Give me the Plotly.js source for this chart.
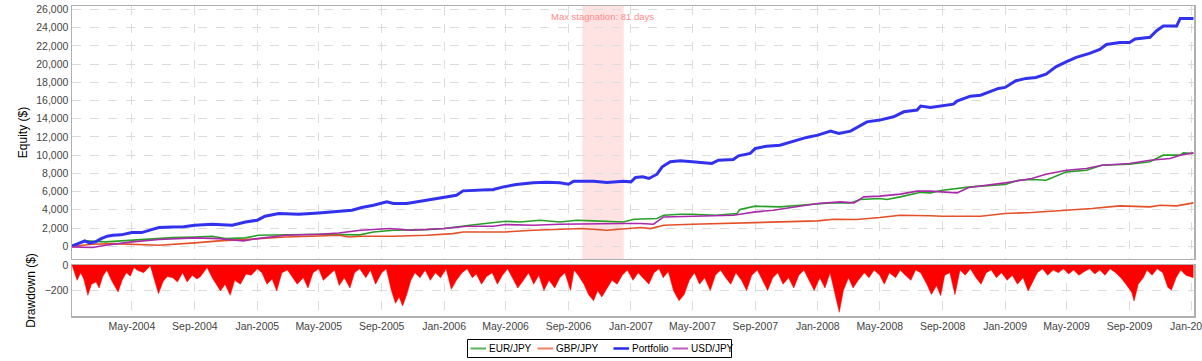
<!DOCTYPE html>
<html>
<head>
<meta charset="utf-8">
<script src="https://cdn.plot.ly/plotly-3.0.1.min.js"></script>
<style>html,body{margin:0;padding:0;background:#fff;}#chart{width:1202px;height:361px;}</style>
</head>
<body>
<div id="chart"></div>
<script>
// ---------- DATA ----------
const portfolioDates = ["2004-01-05","2004-01-20","2004-01-30","2004-02-08","2004-02-20","2004-03-02","2004-03-14","2004-03-25","2004-04-10","2004-05-01","2004-05-20","2004-06-10","2004-06-23","2004-07-19","2004-08-10","2004-09-01","2004-10-05","2004-11-13","2004-12-09","2005-01-01","2005-01-16","2005-02-12","2005-03-23","2005-05-01","2005-06-09","2005-07-05","2005-07-24","2005-08-16","2005-09-11","2005-09-24","2005-10-20","2005-11-15","2005-12-11","2006-01-01","2006-01-25","2006-02-07","2006-03-12","2006-04-07","2006-04-27","2006-05-22","2006-06-24","2006-07-20","2006-08-15","2006-09-01","2006-09-11","2006-10-20","2006-11-15","2006-12-17","2007-01-01","2007-01-10","2007-01-24","2007-02-05","2007-02-21","2007-03-03","2007-03-19","2007-04-07","2007-05-01","2007-06-08","2007-06-21","2007-07-20","2007-07-30","2007-08-22","2007-09-01","2007-09-23","2007-10-19","2007-11-08","2007-12-10","2008-01-01","2008-01-26","2008-02-11","2008-03-05","2008-04-06","2008-05-01","2008-05-28","2008-06-17","2008-07-13","2008-07-20","2008-08-08","2008-09-01","2008-09-22","2008-09-29","2008-10-25","2008-11-14","2008-12-03","2008-12-19","2009-01-01","2009-01-22","2009-02-11","2009-03-02","2009-03-22","2009-04-10","2009-05-01","2009-05-20","2009-06-15","2009-07-05","2009-07-18","2009-08-13","2009-09-01","2009-09-12","2009-10-11","2009-10-24","2009-11-06","2009-12-02","2009-12-09","2010-01-04"];
const portfolioValues = [0,330,590,370,480,840,1100,1210,1250,1500,1500,1850,2050,2100,2150,2300,2420,2300,2670,2860,3300,3590,3520,3660,3880,3960,4250,4500,4870,4690,4690,4950,5130,5420,5600,6080,6150,6230,6520,6780,6960,7030,6960,6810,7140,7140,7000,7140,7070,7550,7620,7440,7910,8720,9270,9380,9270,9090,9450,9530,9930,10190,10740,10990,11100,11460,11950,12200,12640,12390,12640,13660,13850,14210,14760,14950,15390,15240,15460,15600,15930,16480,16590,17030,17330,17440,18170,18430,18540,18900,19700,20260,20740,21170,21610,22160,22380,22380,22750,22940,23660,24180,24180,25020,25020];

const eurDates = ["2004-01-05","2004-02-01","2004-03-11","2004-05-01","2004-06-10","2004-07-19","2004-09-01","2004-10-05","2004-10-31","2004-12-09","2005-01-03","2005-02-25","2005-05-01","2005-06-09","2005-07-20","2005-08-16","2005-09-24","2005-11-28","2006-01-01","2006-02-20","2006-03-25","2006-05-01","2006-05-29","2006-07-07","2006-08-15","2006-09-17","2006-10-20","2006-12-17","2007-01-07","2007-02-21","2007-03-06","2007-04-07","2007-05-01","2007-06-17","2007-07-27","2007-08-02","2007-09-01","2007-10-19","2007-11-27","2008-01-01","2008-01-26","2008-03-05","2008-03-24","2008-05-01","2008-05-15","2008-06-10","2008-07-13","2008-07-20","2008-08-08","2008-09-01","2008-10-25","2009-01-01","2009-01-27","2009-02-22","2009-03-22","2009-05-01","2009-06-09","2009-07-09","2009-09-01","2009-10-11","2009-11-06","2009-12-09","2009-12-15","2010-01-04"];
const eurValues = [110,590,480,660,840,950,1020,1100,840,920,1210,1280,1320,1280,1250,1570,1760,1830,1940,2310,2490,2750,2670,2860,2670,2860,2780,2670,2970,3040,3410,3520,3520,3410,3590,4030,4400,4320,4500,4690,4760,4760,5130,5240,5130,5420,5790,5920,5860,6150,6520,6780,7250,7330,7250,8170,8350,8900,9010,9270,10000,10000,10250,10190];

const gbpDates = ["2004-01-05","2004-02-14","2004-03-24","2004-05-01","2004-06-23","2004-09-01","2004-10-18","2004-12-09","2005-01-01","2005-02-25","2005-05-01","2005-06-09","2005-06-30","2005-07-22","2005-09-24","2005-11-28","2006-01-18","2006-02-07","2006-04-07","2006-05-01","2006-06-24","2006-08-15","2006-09-27","2006-11-15","2006-12-25","2007-01-20","2007-02-08","2007-03-06","2007-05-01","2007-07-01","2007-09-01","2007-11-08","2008-01-01","2008-02-01","2008-03-17","2008-05-01","2008-06-10","2008-08-08","2008-09-01","2008-11-14","2009-01-01","2009-02-22","2009-05-01","2009-06-20","2009-08-13","2009-10-11","2009-10-31","2009-12-02","2010-01-04"];
const gbpValues = [0,220,290,220,110,370,590,740,840,1020,1130,1210,1020,1100,1100,1210,1390,1570,1570,1570,1760,1830,1940,1760,1900,2050,1940,2310,2420,2490,2560,2670,2780,2970,2930,3150,3410,3350,3300,3300,3590,3700,3960,4140,4430,4320,4500,4430,4760];

const usdDates = ["2004-01-05","2004-02-14","2004-03-11","2004-05-01","2004-06-23","2004-09-01","2004-10-18","2004-12-05","2005-01-01","2005-02-25","2005-05-01","2005-06-09","2005-07-22","2005-09-17","2005-10-27","2006-01-01","2006-02-14","2006-04-07","2006-05-01","2006-06-24","2006-08-15","2006-10-20","2006-12-17","2007-01-20","2007-02-14","2007-03-06","2007-05-01","2007-07-20","2007-08-02","2007-09-01","2007-10-06","2007-11-27","2008-01-01","2008-02-14","2008-03-12","2008-03-31","2008-05-01","2008-06-10","2008-07-13","2008-08-08","2008-09-01","2008-09-29","2008-10-22","2009-01-01","2009-02-22","2009-03-22","2009-05-01","2009-06-09","2009-07-09","2009-09-01","2009-10-11","2009-11-19","2009-12-09","2010-01-04"];
const usdValues = [-70,-140,110,480,740,920,840,590,840,1210,1320,1460,1760,1940,1760,1940,2200,2200,2380,2310,2420,2490,2490,2490,2420,3220,3300,3410,3520,3770,3960,4430,4690,4870,4760,5420,5500,5720,6050,6050,5970,5860,6450,6960,7440,7910,8350,8540,8900,9090,9450,9640,10000,10250];

const ddDates = ["2004-01-05","2004-01-10","2004-01-15","2004-01-22","2004-01-28","2004-02-05","2004-02-12","2004-02-21","2004-02-27","2004-03-05","2004-03-13","2004-03-22","2004-04-04","2004-04-12","2004-04-20","2004-04-28","2004-05-05","2004-05-11","2004-05-24","2004-06-06","2004-06-15","2004-06-22","2004-07-01","2004-07-09","2004-07-20","2004-07-29","2004-08-08","2004-08-17","2004-08-27","2004-09-05","2004-09-12","2004-09-25","2004-10-05","2004-10-15","2004-10-21","2004-10-30","2004-11-09","2004-11-18","2004-11-29","2004-12-10","2004-12-20","2005-01-01","2005-01-10","2005-01-20","2005-01-30","2005-02-08","2005-02-18","2005-03-01","2005-03-10","2005-03-20","2005-04-01","2005-04-10","2005-04-20","2005-05-01","2005-05-10","2005-05-20","2005-06-01","2005-06-10","2005-06-20","2005-07-01","2005-07-10","2005-07-20","2005-08-01","2005-08-10","2005-08-20","2005-09-01","2005-09-10","2005-09-20","2005-09-28","2005-10-05","2005-10-12","2005-10-20","2005-10-28","2005-11-05","2005-11-15","2005-11-25","2005-12-05","2005-12-15","2005-12-25","2006-01-05","2006-01-15","2006-01-25","2006-02-05","2006-02-15","2006-02-25","2006-03-05","2006-03-15","2006-03-25","2006-04-05","2006-04-15","2006-04-25","2006-05-05","2006-05-15","2006-05-25","2006-06-05","2006-06-15","2006-06-25","2006-07-05","2006-07-15","2006-07-25","2006-08-05","2006-08-15","2006-08-25","2006-09-05","2006-09-12","2006-09-20","2006-10-01","2006-10-10","2006-10-20","2006-10-28","2006-11-05","2006-11-15","2006-11-25","2006-12-05","2006-12-15","2006-12-25","2007-01-05","2007-01-15","2007-01-25","2007-02-05","2007-02-15","2007-02-25","2007-03-05","2007-03-15","2007-03-25","2007-04-05","2007-04-15","2007-04-25","2007-05-05","2007-05-15","2007-05-25","2007-06-05","2007-06-15","2007-06-25","2007-07-05","2007-07-15","2007-07-25","2007-08-05","2007-08-15","2007-08-25","2007-09-05","2007-09-15","2007-09-25","2007-10-05","2007-10-15","2007-10-25","2007-11-05","2007-11-15","2007-11-25","2007-12-05","2007-12-15","2007-12-25","2008-01-05","2008-01-15","2008-01-25","2008-02-05","2008-02-12","2008-02-20","2008-03-01","2008-03-10","2008-03-20","2008-04-01","2008-04-10","2008-04-20","2008-05-01","2008-05-10","2008-05-20","2008-06-01","2008-06-10","2008-06-20","2008-07-01","2008-07-10","2008-07-20","2008-08-01","2008-08-10","2008-08-20","2008-08-28","2008-09-05","2008-09-15","2008-09-25","2008-10-05","2008-10-15","2008-10-25","2008-11-05","2008-11-15","2008-11-25","2008-12-05","2008-12-15","2008-12-25","2009-01-05","2009-01-15","2009-01-25","2009-02-05","2009-02-15","2009-02-25","2009-03-05","2009-03-15","2009-03-25","2009-04-05","2009-04-15","2009-04-25","2009-05-05","2009-05-15","2009-05-25","2009-06-05","2009-06-15","2009-06-25","2009-07-05","2009-07-15","2009-07-25","2009-08-05","2009-08-15","2009-08-25","2009-09-05","2009-09-10","2009-09-18","2009-09-28","2009-10-05","2009-10-15","2009-10-25","2009-11-05","2009-11-15","2009-11-22","2009-12-01","2009-12-10","2009-12-20","2010-01-04"];
const ddValues = [0,-60,-120,-60,-110,-237,-150,-132,-180,-90,-40,-120,-211,-120,-60,-87,-20,-40,-60,-5,-120,-224,-130,-90,-100,-132,-60,-132,-80,-110,-90,-20,-100,-160,-203,-150,-237,-120,-150,-70,-80,-30,-60,-150,-110,-203,-60,-40,-90,-150,-100,-180,-60,-30,-120,-80,-40,-160,-100,-180,-60,-30,-100,-40,-150,-60,-30,-200,-300,-250,-320,-230,-120,-60,-100,-40,-120,-60,-100,-30,-190,-120,-60,-30,-100,-70,-150,-90,-60,-150,-80,-30,-100,-180,-120,-60,-150,-80,-200,-120,-180,-100,-60,-200,-40,-80,-150,-230,-280,-200,-250,-180,-120,-150,-80,-40,-120,-60,-100,-150,-60,-30,-100,-50,-200,-280,-230,-120,-60,-150,-100,-200,-80,-40,-100,-150,-60,-120,-200,-80,-40,-120,-200,-100,-60,-150,-100,-180,-80,-40,-120,-200,-100,-180,-60,-250,-370,-200,-100,-180,-120,-60,-100,-40,-80,-150,-60,-100,-40,-80,-120,-40,-60,-150,-230,-160,-240,-80,-60,-232,-40,-80,-30,-100,-150,-60,-40,-100,-60,-120,-80,-150,-100,-203,-130,-60,-30,-80,-40,-60,-30,-70,-40,-80,-50,-30,-70,-40,-80,-30,-60,-100,-150,-211,-282,-150,-100,-40,-80,-30,-60,-175,-195,-100,-40,-80,-100];

const stagnationStart = "2006-09-28";
const stagnationEnd = "2006-12-18";
const stagnationLabel = "Max stagnation: 81 days";

const seriesNames = ["EUR/JPY", "GBP/JPY", "Portfolio", "USD/JPY"];

// ---------- STYLE ----------
const FONT = "Liberation Sans, Arial, sans-serif";
const tickFont = {family: FONT, size: 10.5, color: "#444"};
const gridCol = "#dcdcdc";
const frameCol = "#b0b0b0";
const seriesColors = ["rgb(40,160,40)", "rgb(228,80,40)", "rgb(50,50,238)", "rgb(170,40,170)"];
const seriesWidths = [1.6, 1.6, 3, 1.6];
const legendSwatchColors = ["rgb(90,180,90)", "rgb(240,130,100)", "rgb(40,40,230)", "rgb(190,90,190)"];

const seriesX = [eurDates, gbpDates, portfolioDates, usdDates];
const seriesY = [eurValues, gbpValues, portfolioValues, usdValues];

const traces = seriesNames.map((n, i) => ({
  x: seriesX[i], y: seriesY[i], name: n, type: "scatter", mode: "lines",
  line: {color: seriesColors[i], width: seriesWidths[i]}, xaxis: "x2", yaxis: "y", showlegend: false
}));
traces.push({x: ddDates, y: ddValues, name: "Drawdown", type: "scatter", mode: "lines",
  fill: "tozeroy", fillcolor: "#ff0000", line: {color: "#ff0000", width: 0.5},
  xaxis: "x", yaxis: "y2", showlegend: false});

// ---------- custom legend (paper coords: plot area 72..1194 px wide, bottom at 316 px, height 310 px) ----------
const PL = 72, PW = 1122, PB = 316, PH = 310;
const px = v => (v - PL) / PW;
const py = v => (PB - v) / PH;
const legendBox = {x0: 467.5, x1: 731.5, y0: 339.5, y1: 357.5};
const swatchStarts = [470.5, 537.5, 613.5, 672.5];
const swatchLen = 15.5;
const legendY = 348.5;

const shapes = [{type: "rect", xref: "x2", yref: "y domain", x0: stagnationStart, x1: stagnationEnd,
  y0: 0, y1: 1, fillcolor: "rgba(255,0,0,0.11)", line: {width: 0}, layer: "below"},
  {type: "rect", xref: "paper", yref: "paper", x0: px(legendBox.x0), x1: px(legendBox.x1),
   y0: py(legendBox.y1), y1: py(legendBox.y0), line: {color: "#000", width: 1}, fillcolor: "rgba(0,0,0,0)"}];
const annotations = [{xref: "x2", yref: "paper", x: "2006-11-07", y: 1, yanchor: "top", yshift: -3,
  text: stagnationLabel, showarrow: false, font: {family: FONT, size: 9.5, color: "#ff8a8a"}}];
seriesNames.forEach((n, i) => {
  shapes.push({type: "line", xref: "paper", yref: "paper", x0: px(swatchStarts[i]), x1: px(swatchStarts[i] + swatchLen),
    y0: py(legendY), y1: py(legendY), line: {color: legendSwatchColors[i], width: i === 2 ? 2.5 : 2}});
  annotations.push({xref: "paper", yref: "paper", x: px(swatchStarts[i] + swatchLen + 2), y: py(legendY),
    xanchor: "left", yanchor: "middle", text: n, showarrow: false, borderpad: 0,
    font: {family: FONT, size: 10, color: "#000"}});
});

const xRange = ["2004-01-05", "2010-01-05"];
const layout = {
  width: 1202, height: 361,
  margin: {l: 72, r: 8, t: 6, b: 45},
  paper_bgcolor: "#fff", plot_bgcolor: "#fff",
  showlegend: false,
  xaxis: {domain: [0, 1], anchor: "y2", type: "date", range: xRange,
          tickformat: "%b-%Y", dtick: "M4", tick0: "2004-01-01", ticks: "", ticklabeloverflow: "allow",
          tickfont: tickFont, showgrid: true, gridcolor: gridCol, griddash: "dash", gridwidth: 1,
          showline: true, linecolor: frameCol, linewidth: 1.5, mirror: true, zeroline: false},
  xaxis2: {domain: [0, 1], anchor: "y", type: "date", range: xRange, matches: "x",
           dtick: "M4", tick0: "2004-01-01", showticklabels: false, ticks: "",
           showgrid: true, gridcolor: gridCol, griddash: "dash", gridwidth: 1,
           showline: true, linecolor: frameCol, linewidth: 1.5, mirror: true, zeroline: false},
  yaxis: {domain: [0.1839, 1], anchor: "x2", range: [-1400, 26380], dtick: 2000, tick0: 0,
          tickformat: ",d", tickfont: tickFont, ticks: "",
          showgrid: true, gridcolor: gridCol, griddash: "dash", gridwidth: 1,
          showline: true, linecolor: frameCol, linewidth: 1.5, mirror: true, zeroline: false,
          title: {text: "Equity ($)", font: {family: FONT, size: 12, color: "#000"}, standoff: 6}},
  yaxis2: {domain: [0, 0.1645], anchor: "x", range: [-399, 0], dtick: 200, tick0: 0,
           tickfont: tickFont, ticks: "",
           showgrid: true, gridcolor: gridCol, griddash: "dash", gridwidth: 1,
           showline: true, linecolor: frameCol, linewidth: 1.5, mirror: true, zeroline: false,
           title: {text: "Drawdown ($)", font: {family: FONT, size: 12, color: "#000"}, standoff: 6}},
  shapes: shapes,
  annotations: annotations
};

Plotly.newPlot("chart", traces, layout, {staticPlot: true, displayModeBar: false});
</script>
</body>
</html>
